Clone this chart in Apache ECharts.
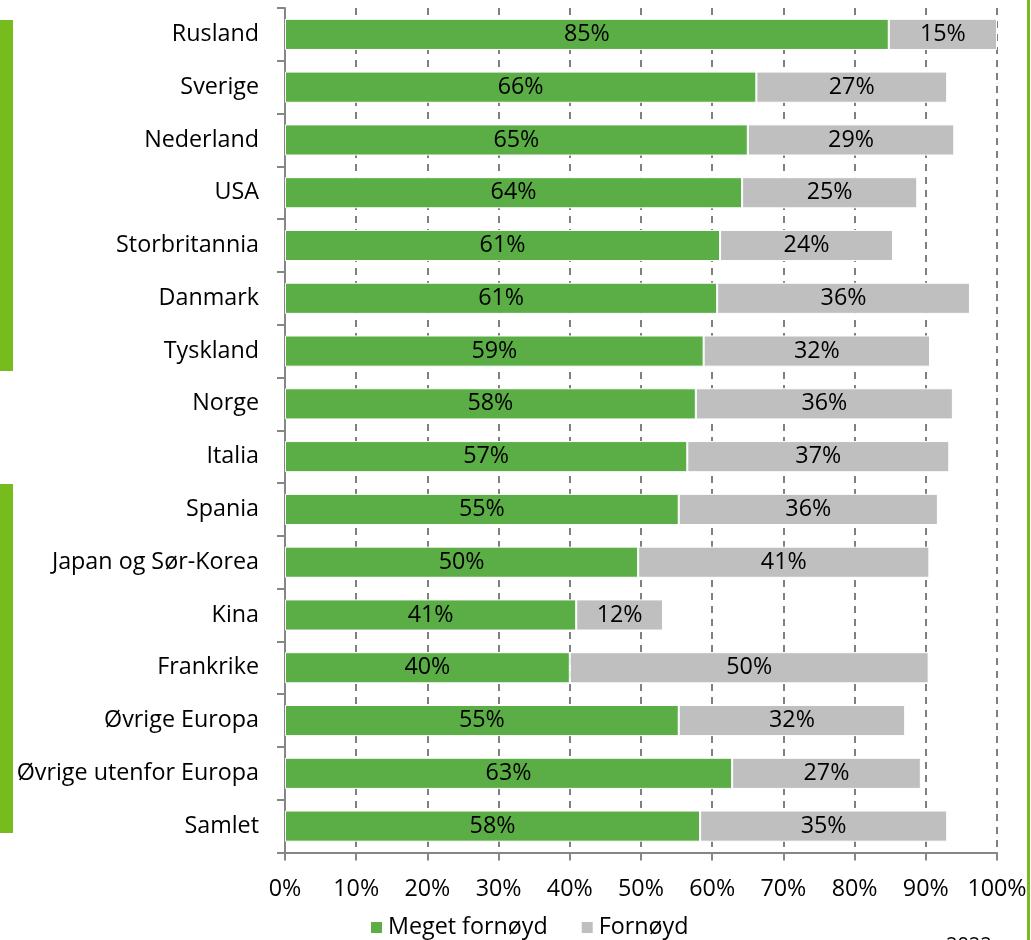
<!DOCTYPE html>
<html>
<head>
<meta charset="utf-8">
<script src="https://cdn.jsdelivr.net/npm/echarts@6/dist/echarts.min.js"></script>
<style>html,body{margin:0;padding:0;background:#fff}#c{width:1031px;height:940px}</style>
</head>
<body>
<div id="c"></div>
<script>
const categories = ["Rusland","Sverige","Nederland","USA","Storbritannia","Danmark","Tyskland","Norge","Italia","Spania","Japan og Sør-Korea","Kina","Frankrike","Øvrige Europa","Øvrige utenfor Europa","Samlet"];
const megetFornoyd = [84.8,66.2,65.0,64.2,61.1,60.7,58.8,57.7,56.5,55.3,49.6,40.9,40.0,55.3,62.8,58.3];
const fornoyd = [15.2,26.8,29.0,24.6,24.3,35.5,31.8,36.1,36.8,36.4,40.9,12.2,50.4,31.8,26.5,34.7];
const xTicks = [0,10,20,30,40,50,60,70,80,90,100];
const seriesNames = ["Meget fornøyd","Fornøyd"];

const FONT = "Open Sans";
const FS = 23.3;
const chart = echarts.init(document.getElementById('c'), null, {renderer:'canvas'});
const labelOpt = {show:true, position:'inside', color:'#000', fontFamily:FONT, fontSize:FS,
  formatter: p => Math.round(p.value) + '%'};
chart.setOption({
  animation:false,
  backgroundColor:'#fff',
  textStyle:{fontFamily:FONT},
  grid:{left:285, right:34, top:8, bottom:87.5, containLabel:false},
  legend:{
    left:369, top:916, padding:0, itemWidth:13, itemHeight:13, itemGap:32, icon:'rect',
    textStyle:{fontFamily:FONT, fontSize:FS, color:'#000'},
    data:seriesNames
  },
  xAxis:{
    type:'value', min:0, max:100, interval:10,
    axisLine:{show:true, lineStyle:{color:'#868686', width:2}},
    axisTick:{show:true, length:8, lineStyle:{color:'#868686', width:2}},
    axisLabel:{color:'#000', fontFamily:FONT, fontSize:FS, margin:25,
      formatter: v => xTicks.includes(v) ? v + '%' : ''},
    splitLine:{show:true, lineStyle:{color:'#808080', width:2, type:[7,6]}}
  },
  yAxis:{
    type:'category', inverse:true, data:categories,
    axisLine:{show:true, lineStyle:{color:'#868686', width:2}},
    axisTick:{show:true, length:8, lineStyle:{color:'#868686', width:2}},
    axisLabel:{color:'#000', fontFamily:FONT, fontSize:FS, margin:26}
  },
  series:[
    {name:seriesNames[0], type:'bar', stack:'a', data:megetFornoyd, barCategoryGap:'41%',
      itemStyle:{color:'#5bad46', borderColor:'#fff', borderWidth:1}, label:labelOpt},
    {name:seriesNames[1], type:'bar', stack:'a', data:fornoyd, barCategoryGap:'41%',
      itemStyle:{color:'#bfbfbf', borderColor:'#fff', borderWidth:1}, label:labelOpt}
  ],
  graphic:[
    {type:'rect', shape:{x:0, y:20, width:13, height:351}, style:{fill:'#77bc1f'}},
    {type:'rect', shape:{x:0, y:484, width:13, height:349}, style:{fill:'#77bc1f'}},
    {type:'rect', shape:{x:1027, y:0, width:3, height:940}, style:{fill:'#77bc1f'}},
    {type:'text', x:946, y:935, style:{text:'2022', fontFamily:FONT, fontSize:20, fill:'#000'}}
  ]
});
</script>
</body>
</html>
